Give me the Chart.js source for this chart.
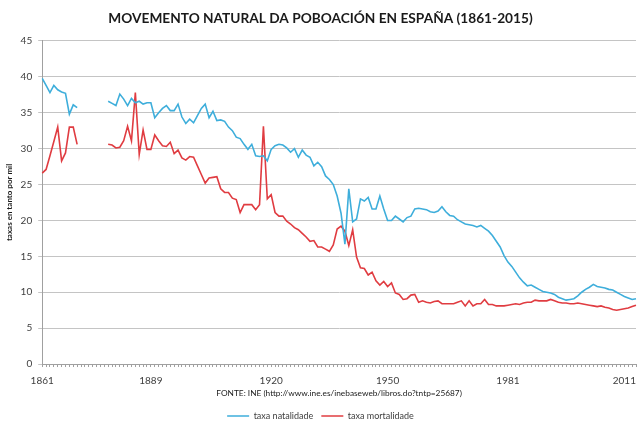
<!DOCTYPE html>
<html>
<head>
<meta charset="utf-8">
<script src="https://cdn.jsdelivr.net/npm/chart.js@4.4.1/dist/chart.umd.min.js"></script>
<style>
  body { margin: 0; background: #fff; }
  #grafico { display: block; }
</style>
</head>
<body>
<canvas id="grafico" width="638" height="423"></canvas>
<script>
// anos 1861-2014 (eixo de categorías)
const primeiroAno = 1861;
const ultimoAno = 2014;
const anos = [];
for (let a = primeiroAno; a <= ultimoAno; a++) anos.push(String(a));

// etiquetas que se ven no eixo X
const etiquetasX = ['1861', '1889', '1920', '1950', '1981', '2011'];

// taxa natalidade (por mil), null = sen datos (1871-1877)
const natalidade = [
    39.8, 38.8, 37.8, 38.8, 38.2, 37.9, 37.7, 34.8, 36.1, 35.7,   // 1861-1870
    null, null, null, null, null, null, null,                     // 1871-1877
    36.6, 36.3, 36.0, 37.6, 36.9, 36.0, 37.0, 36.4, 36.6, 36.2, 36.4, 36.4, // 1878-1889
    34.3, 35.0, 35.6, 36.0, 35.3, 35.3, 36.2, 34.4, 33.5, 34.1,   // 1890
    33.6, 34.6, 35.6, 36.2, 34.3, 35.2, 33.9, 34.0, 33.8, 33.0,   // 1900
    32.5, 31.6, 31.4, 30.6, 29.9, 30.6, 29.0, 28.9, 29.0, 28.3,   // 1910
    29.9, 30.4, 30.6, 30.5, 30.1, 29.5, 30.0, 28.8, 29.8, 29.1,   // 1920
    28.8, 27.6, 28.1, 27.5, 26.2, 25.7, 25.0, 23.4, 21.0, 16.7,   // 1930
    24.4, 19.8, 20.2, 23.0, 22.7, 23.2, 21.6, 21.6, 23.4, 21.6,   // 1940
    20.0, 20.0, 20.6, 20.2, 19.8, 20.4, 20.6, 21.6, 21.7, 21.6,   // 1950
    21.5, 21.2, 21.1, 21.3, 21.9, 21.2, 20.7, 20.6, 20.1, 19.8,   // 1960
    19.5, 19.4, 19.3, 19.1, 19.3, 18.9, 18.5, 17.9, 17.1, 16.3,   // 1970
    15.1, 14.2, 13.6, 12.8, 12.0, 11.4, 10.9, 11.0, 10.7, 10.4,   // 1980
    10.1, 10.0, 9.9, 9.7, 9.3, 9.1, 8.9, 9.0, 9.1, 9.5,           // 1990
    10.0, 10.4, 10.7, 11.1, 10.8, 10.7, 10.6, 10.4, 10.3, 10.0,   // 2000
    9.7, 9.4, 9.2, 9.0, 9.1                                       // 2010-2014
];

// taxa mortalidade (por mil)
const mortalidade = [
    26.6, 27.1, 29.0, 31.0, 33.0, 28.3, 29.4, 33.0, 33.0, 30.6,   // 1861-1870
    null, null, null, null, null, null, null,                     // 1871-1877
    30.6, 30.5, 30.1, 30.2, 31.1, 33.1, 31.1, 37.8, 29.2, 32.6, 29.9, 29.9, // 1878-1889
    31.9, 31.1, 30.4, 30.3, 30.9, 29.3, 29.8, 28.7, 28.4, 28.9,   // 1890
    28.8, 27.6, 26.4, 25.2, 25.9, 26.0, 26.1, 24.4, 23.9, 23.9,   // 1900
    23.1, 22.9, 21.1, 22.2, 22.2, 22.2, 21.5, 22.2, 33.1, 23.0,   // 1910
    23.6, 21.1, 20.6, 20.6, 19.9, 19.5, 19.0, 18.7, 18.2, 17.7,   // 1920
    17.1, 17.2, 16.3, 16.3, 16.0, 15.7, 16.6, 18.8, 19.2, 18.5,   // 1930
    16.5, 18.7, 14.9, 13.4, 13.3, 12.4, 12.8, 11.6, 11.0, 11.5,   // 1940
    10.8, 11.3, 9.9, 9.7, 9.0, 9.1, 9.6, 9.7, 8.6, 8.8,           // 1950
    8.6, 8.5, 8.7, 8.8, 8.4, 8.4, 8.4, 8.4, 8.6, 8.8,             // 1960
    8.1, 8.8, 8.1, 8.4, 8.4, 9.0, 8.3, 8.3, 8.1, 8.1,             // 1970
    8.1, 8.2, 8.3, 8.4, 8.3, 8.5, 8.6, 8.6, 8.9, 8.8,             // 1980
    8.8, 8.8, 9.0, 8.8, 8.6, 8.5, 8.5, 8.4, 8.4, 8.5,             // 1990
    8.4, 8.3, 8.2, 8.1, 8.0, 8.1, 7.9, 7.8, 7.6, 7.5,             // 2000
    7.6, 7.7, 7.8, 8.0, 8.2                                       // 2010-2014
];

const fonte = 'Lato';
const cinza = '#404040';

const ctx = document.getElementById('grafico').getContext('2d');
const chart = new Chart(ctx, {
    type: 'line',
    data: {
        labels: anos,
        datasets: [{
            label: 'taxa natalidade',
            data: natalidade,
            borderColor: '#3eaedb',
            backgroundColor: '#3eaedb',
            borderWidth: 1.6,
            pointRadius: 0,
            tension: 0,
            spanGaps: false
        }, {
            label: 'taxa mortalidade',
            data: mortalidade,
            borderColor: '#e03c41',
            backgroundColor: '#e03c41',
            borderWidth: 1.6,
            pointRadius: 0,
            tension: 0,
            spanGaps: false
        }]
    },
    options: {
        responsive: false,
        animation: false,
        layout: { padding: { left: 5, right: 2, top: 0, bottom: -7.5 } },
        plugins: {
            title: {
                display: true,
                text: 'MOVEMENTO NATURAL DA POBOACIÓN EN ESPAÑA (1861-2015)',
                color: '#1a1a1a',
                font: { family: fonte, size: 13.7, weight: 'bold' },
                padding: { top: 10, bottom: 14.5 }
            },
            legend: {
                position: 'bottom',
                labels: {
                    usePointStyle: true,
                    pointStyle: 'line',
                    pointStyleWidth: 22,
                    color: cinza,
                    font: { family: fonte, size: 9 },
                    padding: 8
                }
            },
            tooltip: { enabled: false }
        },
        scales: {
            x: {
                grid: { drawOnChartArea: false, tickLength: 3, color: '#a0a0a0' },
                border: { color: '#a0a0a0' },
                ticks: {
                    autoSkip: false,
                    maxRotation: 0,
                    color: cinza,
                    font: { family: fonte, size: 10, lineHeight: 2.4 },
                    padding: 2,
                    callback: function (v, i) {
                        return etiquetasX.includes(anos[i]) ? anos[i] : '';
                    }
                },
                title: {
                    display: true,
                    text: 'FONTE: INE (http://www.ine.es/inebaseweb/libros.do?tntp=25687)',
                    color: '#1a1a1a',
                    font: { family: fonte, size: 8.3 },
                    padding: { top: -7, bottom: 5.5 }
                }
            },
            y: {
                min: 0,
                max: 45,
                ticks: {
                    stepSize: 5,
                    color: cinza,
                    font: { family: fonte, size: 10 },
                    padding: 6
                },
                grid: { color: '#c4c4c4', tickLength: 4 },
                border: { color: '#a0a0a0' },
                title: {
                    display: true,
                    text: 'taxas en tanto por mil',
                    color: '#1a1a1a',
                    font: { family: fonte, size: 8, weight: 'bold' },
                    padding: { top: 0, bottom: 0 }
                }
            }
        }
    }
});
</script>
</body>
</html>
